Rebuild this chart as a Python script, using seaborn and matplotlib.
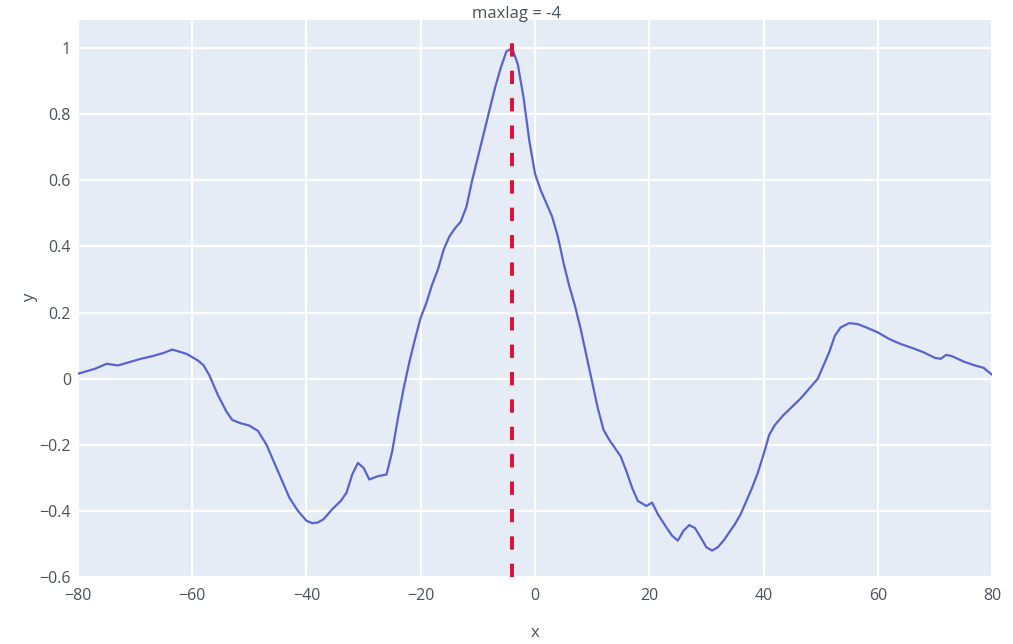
import matplotlib
matplotlib.use("Agg")
import matplotlib.pyplot as plt
from matplotlib.ticker import FuncFormatter
import pandas as pd
import seaborn as sns

# Cross-correlation of two series over lags -80..80
lags = [-80, -77, -75, -73, -71, -69, -67, -65, -63.5, -61, -59, -58, -57, -55.5,
        -54, -53, -51.5, -50, -48.5, -47, -45.5, -44, -43, -41.5, -40, -39, -38,
        -37, -35.5, -34, -33, -32, -31, -30, -29, -27.5, -26, -25, -24, -23, -22,
        -21, -20, -19, -18, -17, -16, -15, -14, -13, -12, -11, -10, -9, -8, -7,
        -6, -5, -4, -3, -2, -1, 0, 1, 2, 3, 4, 5, 6, 7, 8, 9, 10, 11, 12, 13, 14,
        15, 16, 17, 18, 19.5, 20.5, 21.5, 23, 24, 25, 26, 27, 28, 29, 30, 31, 32,
        33, 34, 35, 36, 37, 38, 39, 40, 41, 42, 43.5, 45, 46.5, 48, 49.5, 50.5,
        51.5, 52.5, 53.5, 55, 56.5, 58, 60, 62, 64, 66, 68, 70, 71, 72, 73, 75,
        77, 78.5, 80]
ccf = [0.015, 0.03, 0.045, 0.04, 0.05, 0.06, 0.068, 0.078, 0.088, 0.075, 0.055,
       0.04, 0.01, -0.05, -0.10, -0.125, -0.135, -0.142, -0.158, -0.2, -0.26,
       -0.32, -0.36, -0.40, -0.43, -0.437, -0.435, -0.425, -0.395, -0.37, -0.345,
       -0.29, -0.255, -0.27, -0.305, -0.295, -0.29, -0.22, -0.12, -0.03, 0.05,
       0.12, 0.185, 0.23, 0.285, 0.33, 0.39, 0.43, 0.455, 0.475, 0.52, 0.60,
       0.67, 0.74, 0.81, 0.88, 0.94, 0.99, 1.0, 0.95, 0.85, 0.72, 0.62, 0.57,
       0.53, 0.49, 0.43, 0.35, 0.28, 0.22, 0.15, 0.07, -0.01, -0.09, -0.155,
       -0.185, -0.21, -0.235, -0.28, -0.33, -0.37, -0.385, -0.375, -0.41, -0.45,
       -0.475, -0.49, -0.46, -0.443, -0.452, -0.48, -0.51, -0.52, -0.51, -0.49,
       -0.465, -0.44, -0.41, -0.37, -0.33, -0.285, -0.23, -0.17, -0.14, -0.11,
       -0.085, -0.06, -0.03, 0.0, 0.04, 0.08, 0.13, 0.155, 0.168, 0.165, 0.155,
       0.14, 0.12, 0.105, 0.093, 0.08, 0.063, 0.06, 0.072, 0.068, 0.052, 0.04,
       0.033, 0.012]
max_lag = -4
marker_span = [-0.6, 1.02]

x_ticks = [-80, -60, -40, -20, 0, 20, 40, 60, 80]
y_ticks = [-0.6, -0.4, -0.2, 0, 0.2, 0.4, 0.6, 0.8, 1]

sns.set_theme(style="darkgrid", rc={
    "axes.facecolor": "#E5ECF6",
    "figure.facecolor": "white",
    "grid.color": "white",
    "grid.linewidth": 1.6,
    "axes.edgecolor": "#E5ECF6",
})
plt.rcParams["font.family"] = ["Open Sans", "DejaVu Sans"]
text_color = "#4a505c"

df = pd.DataFrame({"x": lags, "y": ccf})

fig = plt.figure(figsize=(10.13, 6.44), dpi=100)
W, H = 1013, 644
left, right, top, bottom = 78, 992, 20, 577
ax = fig.add_axes([left / W, (H - bottom) / H, (right - left) / W, (bottom - top) / H])

sns.lineplot(data=df, x="x", y="y", ax=ax, color="#5a62d2", linewidth=1.6,
             estimator=None, sort=False)
ax.plot([max_lag, max_lag], marker_span, color="#dc143c", linewidth=2.9,
        linestyle=(0, (3.3, 3.5)), dash_capstyle="butt", solid_capstyle="butt")

ax.set_xlim(-80, 80)
ax.set_ylim(-0.6, 1.085)
ax.set_xticks(x_ticks)
ax.set_yticks(y_ticks)
ax.yaxis.set_major_formatter(FuncFormatter(lambda v, p: f"{v:g}".replace("-", "\u2212")))
ax.xaxis.set_major_formatter(FuncFormatter(lambda v, p: f"{v:g}".replace("-", "\u2212")))
ax.tick_params(axis="both", length=0, labelsize=11.5, labelcolor=text_color)
ax.tick_params(axis="x", pad=8)
ax.tick_params(axis="y", pad=5)
for s in ax.spines.values():
    s.set_visible(False)

ax.set_xlabel("")
ax.set_ylabel("")
fig.text(535 / W, 1 - 633 / H, "x", ha="center", va="center", fontsize=12, color=text_color)
fig.text(30 / W, 1 - 298 / H, "y", ha="center", va="center", fontsize=12,
         color=text_color, rotation=90)
fig.text(517 / W, 1 - 14 / H, f"maxlag = {max_lag}", ha="center", va="center",
         fontsize=12, color=text_color)

fig.savefig("out.png", dpi=100)
